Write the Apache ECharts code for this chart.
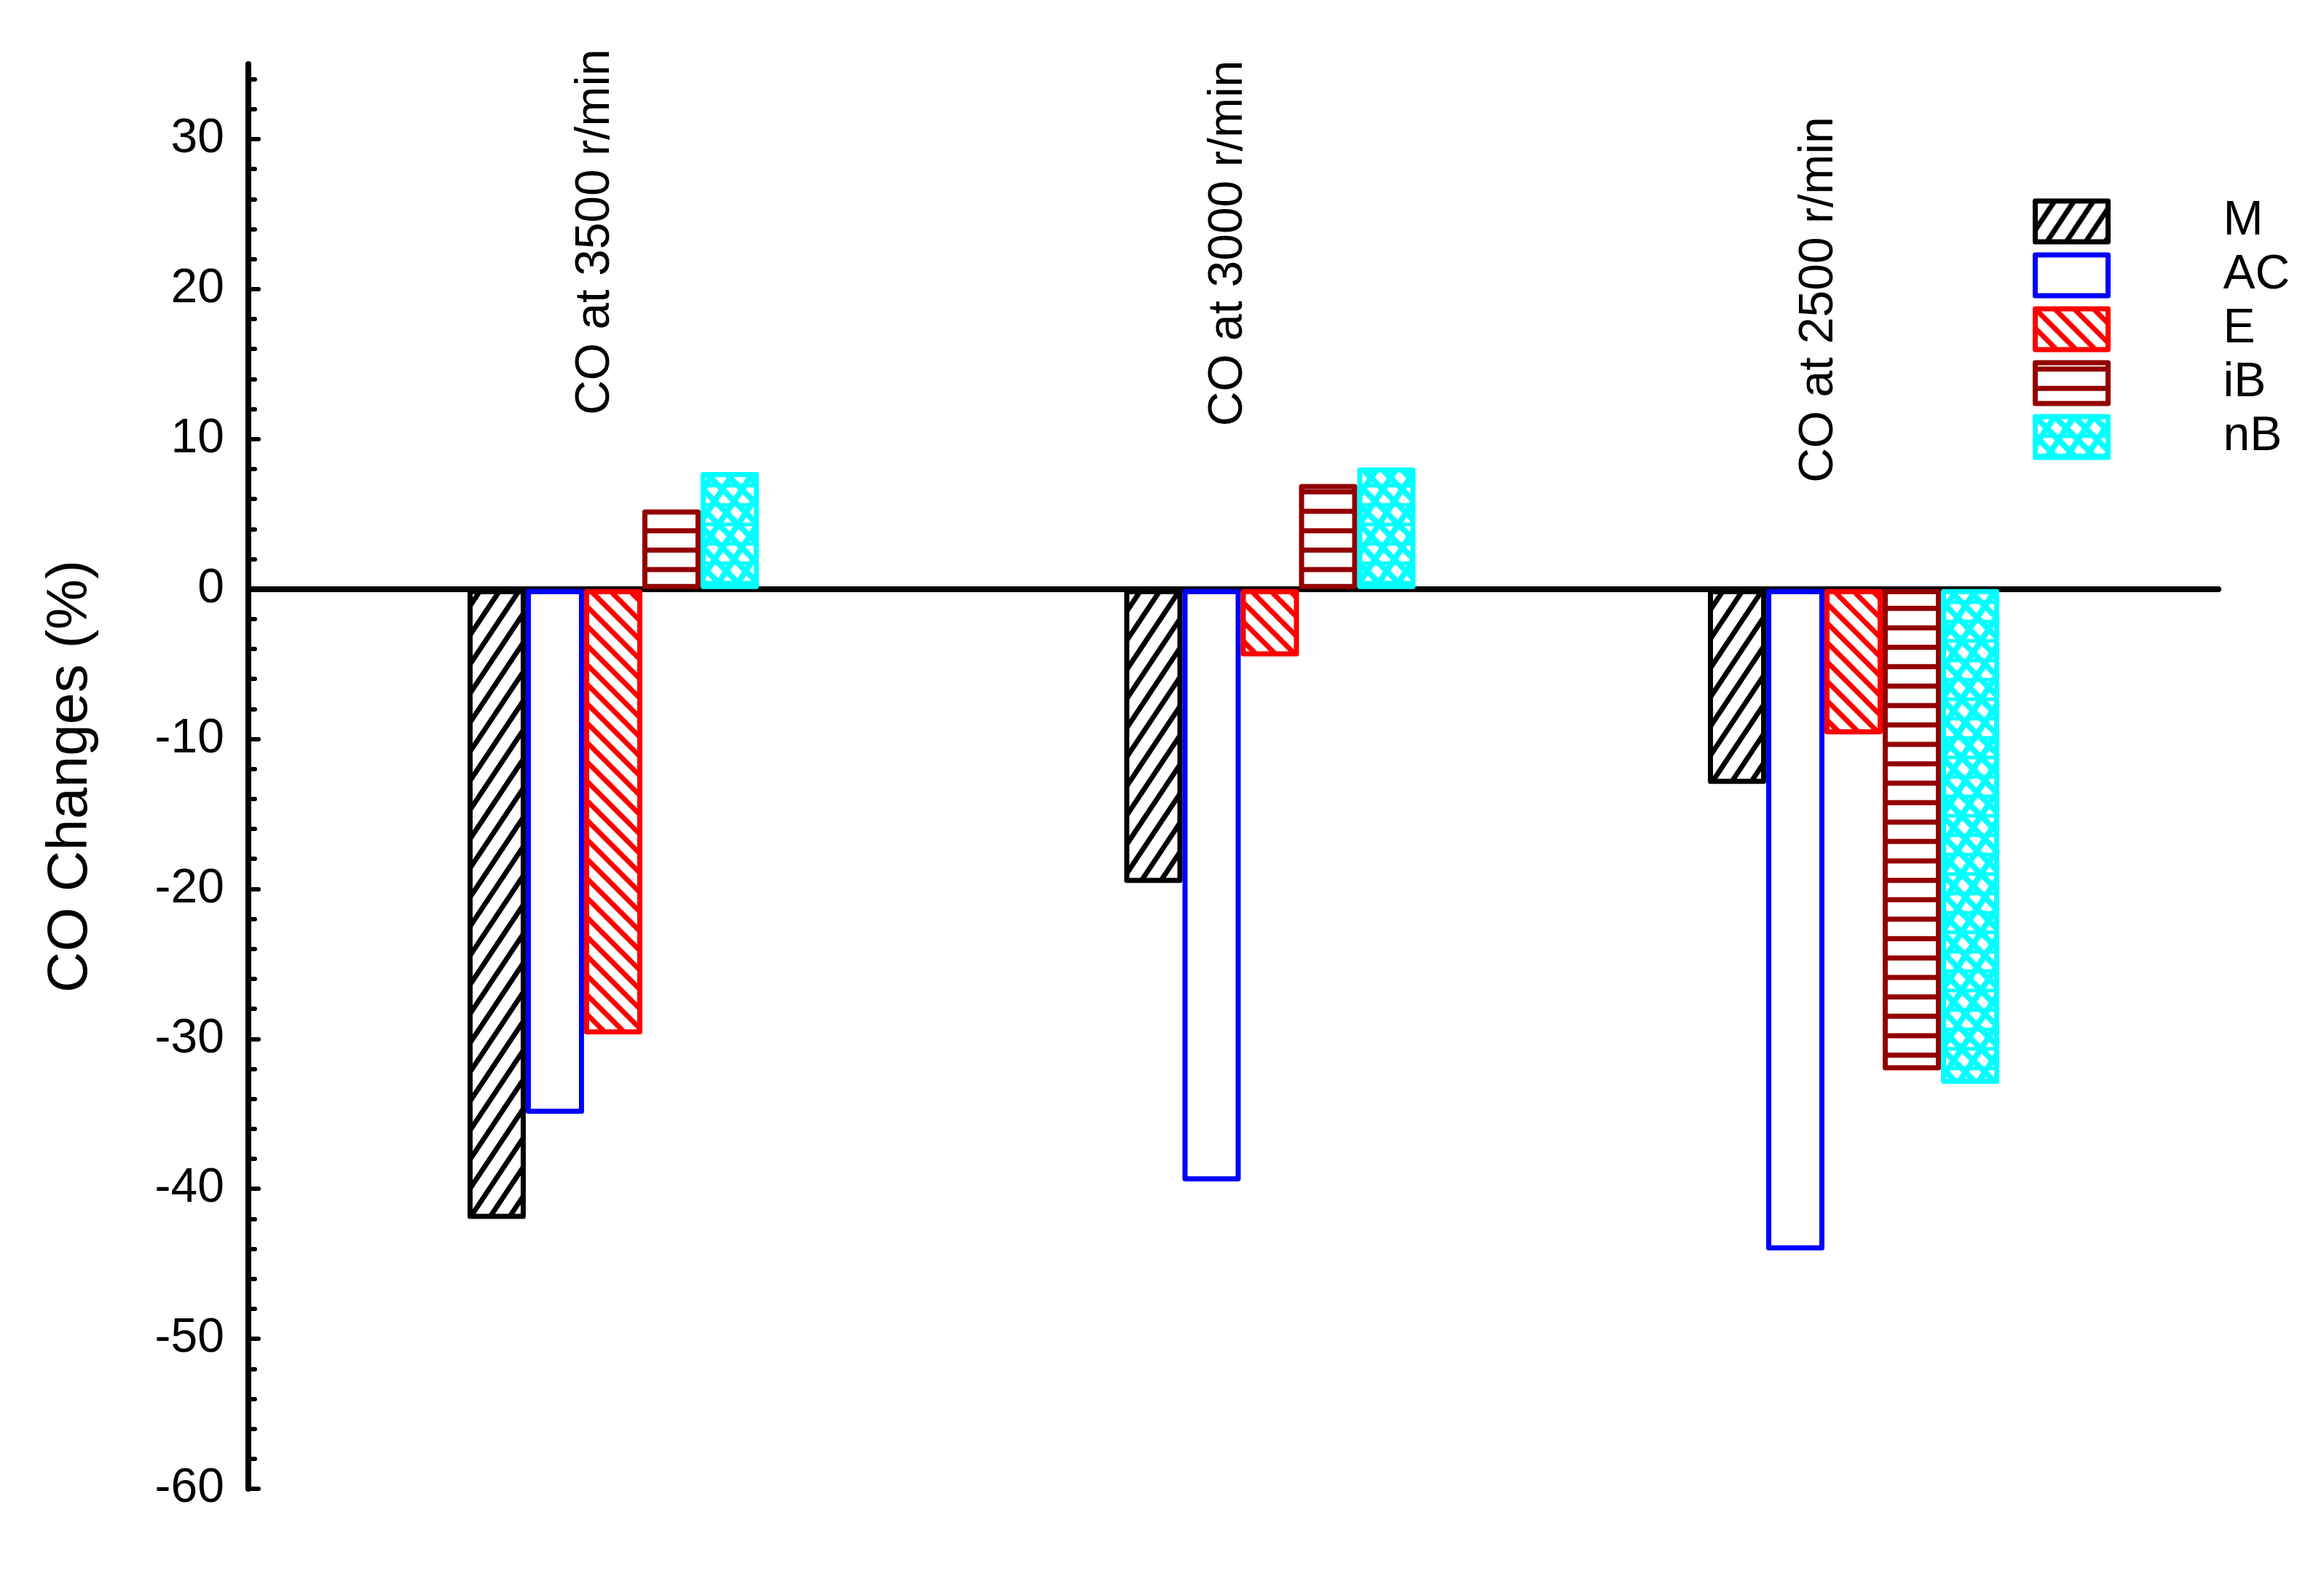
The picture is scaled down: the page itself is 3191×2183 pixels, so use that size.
<!DOCTYPE html>
<html>
<head>
<meta charset="utf-8">
<script src="https://cdn.jsdelivr.net/npm/echarts@6.0.0/dist/echarts.min.js"></script>
<style>
html,body{margin:0;padding:0;background:#ffffff;}
#chart{width:3191px;height:2183px;}
</style>
</head>
<body>
<div id="chart"></div>
<script>
// ---------------- data ----------------
const categories = ['CO at 3500 r/min', 'CO at 3000 r/min', 'CO at 2500 r/min'];
const groupX = [5, 14, 22];              // group positions on the (hidden) x scale
const seriesNames = ['M', 'AC', 'E', 'iB', 'nB'];
const M  = [-42.0, -19.6, -13.0];
const AC = [-35.0, -39.5, -44.1];
const E  = [-29.7, -4.5, -9.7];
const iB = [5.3, 7.0, -32.1];
const nB = [7.8, 8.1, -33.0];
const yTicks = [-60, -50, -40, -30, -20, -10, 0, 10, 20, 30];
const labelAnchorX = [4.76, 13.43, 21.53];
const labelAnchorY = [11.6, 10.85, 7.08];

const values = { M: M, AC: AC, E: E, iB: iB, nB: nB };
const minorTicks = [];
for (let v = -58; v <= 34; v += 2) { if (v % 10 !== 0) minorTicks.push(v); }

// ---------------- patterns ----------------
const T = 80, P = T / 3;
function tile(bg, color, draw) {
  const c = document.createElement('canvas');
  c.width = T; c.height = T;
  const g = c.getContext('2d');
  g.fillStyle = bg; g.fillRect(0, 0, T, T);
  g.strokeStyle = color; g.lineCap = 'butt';
  draw(g);
  return c;
}
function slash(g, w) { // "/" lines : x + y = c
  g.lineWidth = w;
  for (let k = -2; k <= 8; k++) { const c = k * P; g.beginPath(); g.moveTo(c + T, -T); g.lineTo(c - T, T + T); g.stroke(); }
}
function backslash(g, w) { // "\" lines : x - y = c
  g.lineWidth = w;
  for (let k = -5; k <= 5; k++) { const c = k * P; g.beginPath(); g.moveTo(c - T, -T); g.lineTo(c + 2 * T, 2 * T); g.stroke(); }
}
function horiz(g, w, off) {
  g.lineWidth = w;
  for (let k = -2; k <= 4; k++) { const y = off + k * P; g.beginPath(); g.moveTo(-5, y); g.lineTo(T + 5, y); g.stroke(); }
}
const patM  = tile('#ffffff', '#000000', g => slash(g, 7));
const patE  = tile('#ffffff', '#ff0000', g => backslash(g, 7));
const patIB = tile('#ffffff', '#930000', g => horiz(g, 7, 8.7));
const patNB = tile('#ffffff', '#00ffff', g => { slash(g, 8); backslash(g, 8); horiz(g, 5, 0); });

const strokes = { M: '#000000', AC: '#0000ff', E: '#ff0000', iB: '#930000', nB: '#00ffff' };
const fills = {
  M:  { image: patM,  repeat: 'repeat' },
  AC: '#ffffff',
  E:  { image: patE,  repeat: 'repeat' },
  iB: { image: patIB, repeat: 'repeat' },
  nB: { image: patNB, repeat: 'repeat' }
};

const FONT = '"Liberation Sans", Arial, Helvetica, sans-serif';

const chart = echarts.init(document.getElementById('chart'), null, { renderer: 'canvas' });

const series = seriesNames.map(n => ({
  name: n,
  type: 'bar',
  xAxisIndex: 0,
  yAxisIndex: 0,
  barWidth: 80,
  barGap: '0%',
  data: groupX.map((x, j) => [x, values[n][j]]),
  itemStyle: { color: fills[n], borderColor: strokes[n], borderWidth: 7, borderJoin: 'round' },
  emphasis: { disabled: true }
}));

const option = {
  animation: false,
  backgroundColor: '#ffffff',
  grid: { left: 341, right: 145, top: 88, bottom: 139, containLabel: false },
  xAxis: {
    type: 'value', min: 0, max: 27,
    axisLine: { show: true, onZero: true, lineStyle: { color: '#000', width: 8 } },
    axisTick: { show: false }, axisLabel: { show: false }, splitLine: { show: false }
  },
  yAxis: [
    {
      type: 'value', min: -60, max: 35, position: 'left',
      name: 'CO Changes (%)', nameLocation: 'middle', nameGap: 205, nameRotate: 90,
      nameTextStyle: { fontSize: 78, fontFamily: FONT, color: '#000' },
      axisLine: { show: true, onZero: false, lineStyle: { color: '#000', width: 8, cap: 'round' } },
      axisTick: { show: true, inside: true, length: 14, customValues: yTicks, lineStyle: { color: '#000', width: 6, cap: 'round' } },
      axisLabel: { show: true, customValues: yTicks, margin: 33, fontSize: 66, fontFamily: FONT, color: '#000' },
      splitLine: { show: false }
    },
    {
      type: 'value', min: -60, max: 35, position: 'left',
      axisLine: { show: false },
      axisTick: { show: true, inside: true, length: 9, customValues: minorTicks, lineStyle: { color: '#000', width: 6, cap: 'round' } },
      axisLabel: { show: false },
      splitLine: { show: false }
    }
  ],
  legend: {
    orient: 'vertical', left: 2791, top: 271, padding: 0,
    itemWidth: 100, itemHeight: 56, itemGap: 8,
    icon: 'rect', selectedMode: false,
    data: seriesNames,
    itemStyle: { borderWidth: 7 },
    textStyle: { fontSize: 66, fontFamily: FONT, color: '#000', padding: [0, 0, 0, 153], lineHeight: 56 }
  },
  series: series
};

chart.setOption(option);

const labels = categories.map((name, i) => {
  const pt = chart.convertToPixel({ xAxisIndex: 0, yAxisIndex: 0 }, [labelAnchorX[i], labelAnchorY[i]]);
  return {
    type: 'text', x: pt[0], y: pt[1], rotation: Math.PI / 2, z: 10,
    style: { text: name, fontSize: 66, fontFamily: FONT, fill: '#000', align: 'left', verticalAlign: 'middle' }
  };
});
chart.setOption({ graphic: labels });
</script>
</body>
</html>
